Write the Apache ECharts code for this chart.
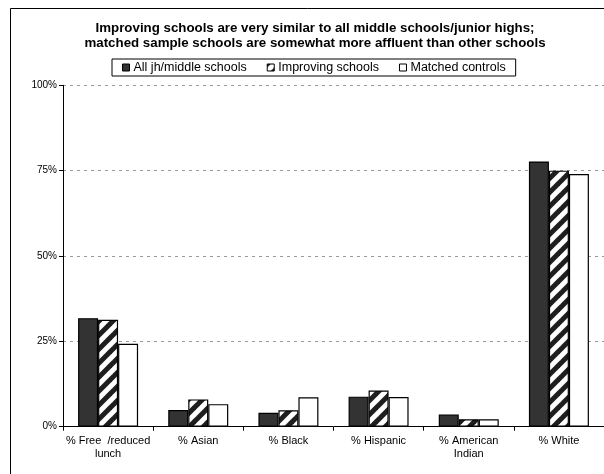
<!DOCTYPE html>
<html>
<head>
<meta charset="utf-8">
<script src="https://cdn.jsdelivr.net/npm/echarts@6/dist/echarts.min.js"></script>
<style>
  html, body { margin: 0; padding: 0; background: #fff; }
  #chart { width: 604px; height: 474px; }
</style>
</head>
<body>
<div id="chart"></div>
<script>
// Category labels along the x axis
var categories = ['% Free  /reduced\nlunch', '% Asian', '% Black', '% Hispanic', '% American\nIndian', '% White'];

// Share of students (percent) in each group
var allSchools = [31.8, 4.9, 4.1, 8.8, 3.6, 77.7];
var improvingSchools = [31.3, 8.0, 4.8, 10.6, 2.2, 75.0];
var matchedControls = [24.3, 6.6, 8.6, 8.7, 2.2, 74.0];

var seriesNames = ['All jh/middle schools', 'Improving schools', 'Matched controls'];
var yTicks = [0, 25, 50, 75, 100];

var FONT = '"Liberation Sans", Arial, sans-serif';

// Diagonal "/" hatching used for the improving-schools bars
function makeHatch() {
  var t = 14;
  var c = document.createElement('canvas');
  c.width = t; c.height = t;
  var g = c.getContext('2d');
  g.fillStyle = '#ffffff';
  g.fillRect(0, 0, t, t);
  g.strokeStyle = '#1e1e1e';
  g.lineWidth = 5;
  g.lineCap = 'square';
  for (var k = -1; k <= 1; k++) {
    g.beginPath();
    g.moveTo(k * t - 2, t + 2);
    g.lineTo(k * t + t + 2, -2);
    g.stroke();
  }
  return c;
}
var hatch = makeHatch();

var chart = echarts.init(document.getElementById('chart'), null, { renderer: 'canvas' });

function barSeries(name, data, fill) {
  return {
    name: name,
    type: 'bar',
    data: data,
    barWidth: 20,
    barGap: '0%',
    itemStyle: { color: fill, borderColor: '#000', borderWidth: 1.2 },
    emphasis: { disabled: true },
    animation: false
  };
}

chart.setOption({
  animation: false,
  backgroundColor: '#ffffff',
  textStyle: { fontFamily: FONT },
  graphic: [{
    type: 'rect',
    shape: { x: 10.5, y: 8.5, width: 700, height: 600 },
    style: { fill: 'none', stroke: '#000', lineWidth: 1 },
    z: 0
  }],
  title: {
    text: 'Improving schools are very similar to all middle schools/junior highs;\nmatched sample schools are somewhat more affluent than other schools',
    left: 310,
    textAlign: 'center',
    top: 16,
    textStyle: { fontFamily: FONT, fontSize: 13.3, fontWeight: 'bold', color: '#000', lineHeight: 15 }
  },
  legend: {
    data: seriesNames,
    top: 59,
    left: 112,
    icon: 'rect',
    itemWidth: 7,
    itemHeight: 7,
    itemGap: 20,
    padding: [2, 10, 2, 10],
    borderColor: '#000',
    borderWidth: 1,
    textStyle: { fontFamily: FONT, fontSize: 12.5, color: '#000', padding: [0, 0, 0, -1] },
    itemStyle: { borderColor: '#000', borderWidth: 1 }
  },
  grid: { left: 63, top: 85.3, width: 549, height: 341.4 },
  xAxis: {
    type: 'category',
    data: categories,
    axisLine: { lineStyle: { color: '#000', width: 1 } },
    axisTick: { show: true, length: 4, lineStyle: { color: '#000' } },
    axisLabel: { fontFamily: FONT, fontSize: 11, color: '#000', margin: 8, lineHeight: 13, interval: 0 },
    splitLine: { show: false }
  },
  yAxis: {
    type: 'value',
    min: yTicks[0],
    max: yTicks[yTicks.length - 1],
    interval: 25,
    axisLine: { show: true, lineStyle: { color: '#000', width: 1 } },
    axisTick: { show: true, length: 4, lineStyle: { color: '#000' } },
    axisLabel: { fontFamily: FONT, fontSize: 10, color: '#000', margin: 6, formatter: '{value}%' },
    splitLine: { show: true, lineStyle: { color: '#999', type: [3, 4], width: 1 } }
  },
  series: [
    barSeries(seriesNames[0], allSchools, '#333333'),
    barSeries(seriesNames[1], improvingSchools, { image: hatch, repeat: 'repeat' }),
    barSeries(seriesNames[2], matchedControls, '#ffffff')
  ]
});
</script>
</body>
</html>
